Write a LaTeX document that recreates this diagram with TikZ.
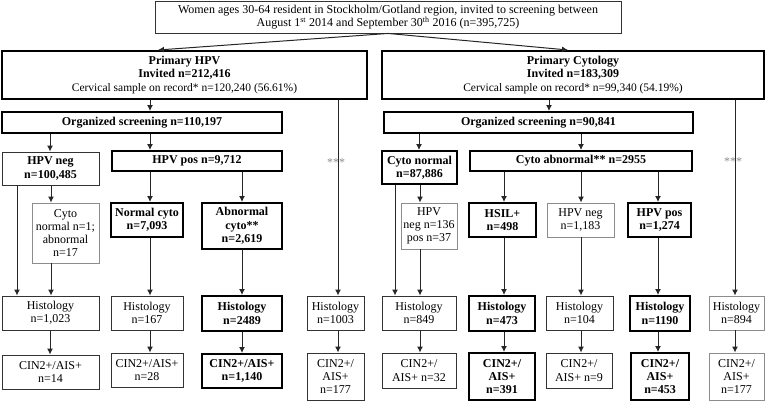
\documentclass[tikz,border=0pt]{standalone}
\usepackage{fontspec}
\setmainfont{Liberation Serif}
\usetikzlibrary{arrows.meta}
\tikzset{
  base/.style={draw=black!80, line width=0.9pt, align=center, inner sep=0pt, text=black,
    font=\fontsize{12}{13.3}\selectfont},
  nbold/.style={base, font=\fontsize{12}{13.3}\selectfont\bfseries},
  bbox/.style={base, draw=black, line width=2pt, font=\fontsize{12}{13.3}\selectfont\bfseries},
  gbox/.style={base, draw=black!45},
  arr/.style={draw=black!85, line width=1pt, -{Latex[length=6pt,width=6pt]}},
  ast/.style={text=black!45, font=\fontsize{12}{12}\selectfont, inner sep=0pt},
}
\newcommand\BoxN[7]{\node[#1, minimum width={#4-#3}, minimum height={#6-#5}] (#2) at ({(#3+#4)/2},{(#5+#6)/2}) {#7};}
\begin{document}
\begin{tikzpicture}[x=1pt,y=-1pt]
\useasboundingbox (0,0) rectangle (766,402);
% top
\BoxN{base}{top}{155}{621}{1}{33}{\fontsize{12}{15}\selectfont Women ages 30-64 resident in Stockholm/Gotland region, invited to screening between\\\fontsize{12}{15}\selectfont August 1\textsuperscript{st} 2014 and September 30\textsuperscript{th} 2016 (n=395,725)}
\BoxN{bbox}{hpv}{2}{367}{51}{99}{Primary HPV\\Invited n=212,416\\{\fontsize{11.5}{13.3}\selectfont\mdseries Cervical sample on record* n=120,240 (56.61\%)}}
\BoxN{bbox}{cyt}{382}{764}{51}{99}{Primary Cytology\\Invited n=183,309\\{\fontsize{11.5}{13.3}\selectfont\mdseries Cervical sample on record* n=99,340 (54.19\%)}}
% HPV arm
\BoxN{bbox}{orgh}{2}{282}{112}{133}{Organized screening n=110,197}
\BoxN{nbold}{hneg}{2}{99}{152}{185}{HPV neg\\n=100,485}
\BoxN{bbox}{hpos}{112}{282}{151}{171}{HPV pos n=9,712}
\BoxN{gbox}{cn1}{32}{99}{203}{263}{Cyto\\normal n=1;\\abnormal\\n=17}
\BoxN{bbox}{ncy}{111}{183}{203}{237}{Normal cyto\\n=7,093}
\BoxN{bbox}{acy}{202}{282}{203}{249}{Abnormal\\cyto**\\n=2,619}
\BoxN{base}{h1}{2}{99}{296}{330}{Histology\\n=1,023}
\BoxN{base}{h2}{111}{183}{296}{330}{Histology\\n=167}
\BoxN{bbox}{h3}{202}{282}{296}{331}{Histology\\n=2489}
\BoxN{base}{h4}{307}{364}{296}{330}{Histology\\n=1003}
\BoxN{base}{c1}{2}{99}{355}{389}{CIN2+/AIS+\\n=14}
\BoxN{base}{c2}{111}{183}{353}{387}{CIN2+/AIS+\\n=28}
\BoxN{bbox}{c3}{202}{282}{354}{388}{CIN2+/AIS+\\n=1,140}
\BoxN{base}{c4}{307}{364}{353}{400}{CIN2+/\\AIS+\\n=177}
% Cytology arm
\BoxN{bbox}{orgc}{384}{693}{112}{133}{Organized screening n=90,841}
\BoxN{bbox}{cnor}{382}{457}{151}{184}{Cyto normal\\n=87,886}
\BoxN{bbox}{cab}{470}{692}{151}{171}{Cyto abnormal** n=2955}
\BoxN{gbox}{hp136}{401}{457}{203}{249}{HPV\\neg n=136\\pos n=37}
\BoxN{bbox}{hsil}{469}{536}{203}{237}{HSIL+\\n=498}
\BoxN{gbox}{hn1183}{547}{614}{203}{237}{HPV neg\\n=1,183}
\BoxN{bbox}{hp1274}{628}{691}{203}{237}{HPV pos\\n=1,274}
\BoxN{base}{k1}{382}{456}{296}{330}{Histology\\n=849}
\BoxN{bbox}{k2}{469}{535}{296}{331}{Histology\\n=473}
\BoxN{base}{k3}{546}{613}{296}{330}{Histology\\n=104}
\BoxN{bbox}{k4}{630}{690}{296}{331}{Histology\\n=1190}
\BoxN{gbox}{k5}{709}{764}{296}{330}{Histology\\n=894}
\BoxN{base}{d1}{382}{456}{353}{388}{CIN2+/\\AIS+ n=32}
\BoxN{bbox}{d2}{469}{535}{353}{400}{CIN2+/\\AIS+\\n=391}
\BoxN{base}{d3}{546}{612}{353}{388}{CIN2+/\\AIS+ n=9}
\BoxN{bbox}{d4}{631}{689}{353}{400}{CIN2+/\\AIS+\\n=453}
\BoxN{gbox}{d5}{709}{764}{353}{400}{CIN2+/\\AIS+\\n=177}
\node[ast] (ast1) at (336,163) {***};
\node[ast] (ast2) at (733,162) {***};
% arrows
\draw[arr] (top.south) -- (hpv.north -| 158,0);
\draw[arr] (top.south) -- (cyt.north -| 568,0);
\draw[arr] (hpv.south -| 150,0) -- (orgh.north -| 150,0);
\draw[arr] (cyt.south -| 549,0) -- (orgc.north -| 549,0);
\draw[arr] (hpv.south -| 338,0) -- (h4.north -| 338,0);
\draw[arr] (cyt.south -| 735,0) -- (k5.north -| 735,0);
\draw[arr] (orgh.south -| 50,0) -- (hneg.north -| 50,0);
\draw[arr] (orgh.south -| 150,0) -- (hpos.north -| 150,0);
\draw[arr] (hneg.south -| 51,0) -- (cn1.north -| 51,0);
\draw[arr] (hneg.south -| 17,0) -- (h1.north -| 17,0);
\draw[arr] (cn1.south -| 51,0) -- (h1.north -| 51,0);
\draw[arr] (hpos.south -| 150,0) -- (ncy.north -| 150,0);
\draw[arr] (hpos.south -| 242,0) -- (acy.north -| 242,0);
\draw[arr] (ncy.south -| 150,0) -- (h2.north -| 150,0);
\draw[arr] (acy.south -| 242,0) -- (h3.north -| 242,0);
\draw[arr] (h1.south -| 50,0) -- (c1.north -| 50,0);
\draw[arr] (h2.south -| 150,0) -- (c2.north -| 150,0);
\draw[arr] (h3.south -| 242,0) -- (c3.north -| 242,0);
\draw[arr] (h4.south -| 338,0) -- (c4.north -| 338,0);
\draw[arr] (orgc.south -| 419,0) -- (cnor.north -| 419,0);
\draw[arr] (orgc.south -| 581,0) -- (cab.north -| 581,0);
\draw[arr] (cnor.south -| 420,0) -- (hp136.north -| 420,0);
\draw[arr] (cnor.south -| 395,0) -- (k1.north -| 395,0);
\draw[arr] (hp136.south -| 420,0) -- (k1.north -| 420,0);
\draw[arr] (cab.south -| 504,0) -- (hsil.north -| 504,0);
\draw[arr] (cab.south -| 581,0) -- (hn1183.north -| 581,0);
\draw[arr] (cab.south -| 658,0) -- (hp1274.north -| 658,0);
\draw[arr] (hsil.south -| 504,0) -- (k2.north -| 504,0);
\draw[arr] (hn1183.south -| 581,0) -- (k3.north -| 581,0);
\draw[arr] (hp1274.south -| 658,0) -- (k4.north -| 658,0);
\draw[arr] (k1.south -| 420,0) -- (d1.north -| 420,0);
\draw[arr] (k2.south -| 504,0) -- (d2.north -| 504,0);
\draw[arr] (k3.south -| 581,0) -- (d3.north -| 581,0);
\draw[arr] (k4.south -| 658,0) -- (d4.north -| 658,0);
\draw[arr] (k5.south -| 735,0) -- (d5.north -| 735,0);
\end{tikzpicture}
\end{document}
